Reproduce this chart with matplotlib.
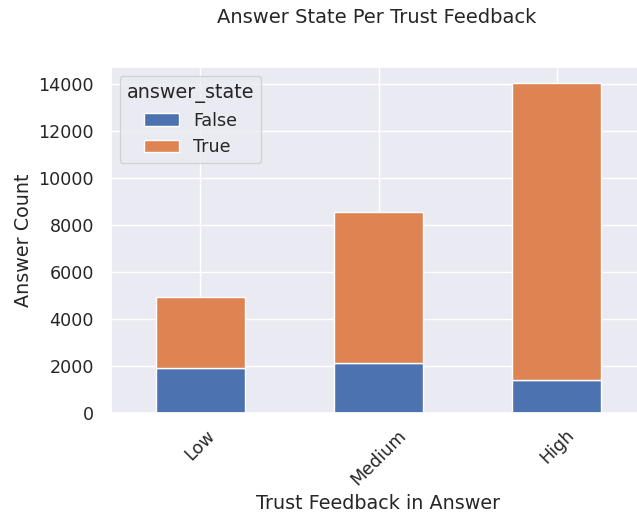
import matplotlib
matplotlib.use("Agg")
import matplotlib.pyplot as plt
import seaborn as sns
import numpy as np

sns.set_theme(font_scale=1.15)

categories = ["Low", "Medium", "High"]
false_counts = [1905, 2145, 1400]
true_counts = [3025, 6405, 12640]
series_names = ["False", "True"]

fig = plt.figure(figsize=(6.37, 5.18), dpi=100)
ax = fig.add_axes([111/637, (518-413)/518, (646-111)/637, (413-67)/518])

x = np.arange(len(categories))
pal = sns.color_palette()
ax.bar(x, false_counts, width=0.5, color=pal[0], label=series_names[0], edgecolor="white", linewidth=1)
ax.bar(x, true_counts, width=0.5, bottom=false_counts, color=pal[1], label=series_names[1], edgecolor="white", linewidth=1)
ax.set_xlim(-0.5, 2.5)
ax.set_xticks(x)
ax.set_xticklabels(categories, rotation=45)
ax.tick_params(axis="y", pad=6.3)
ax.set_xlabel("Trust Feedback in Answer")
ax.set_ylabel("Answer Count")
ax.legend(title="answer_state", loc="upper left")
fig.suptitle("Answer State Per Trust Feedback", x=377/637, y=1-22.7/518, va="baseline", fontsize=14)
fig.savefig("out.png", dpi=100)
